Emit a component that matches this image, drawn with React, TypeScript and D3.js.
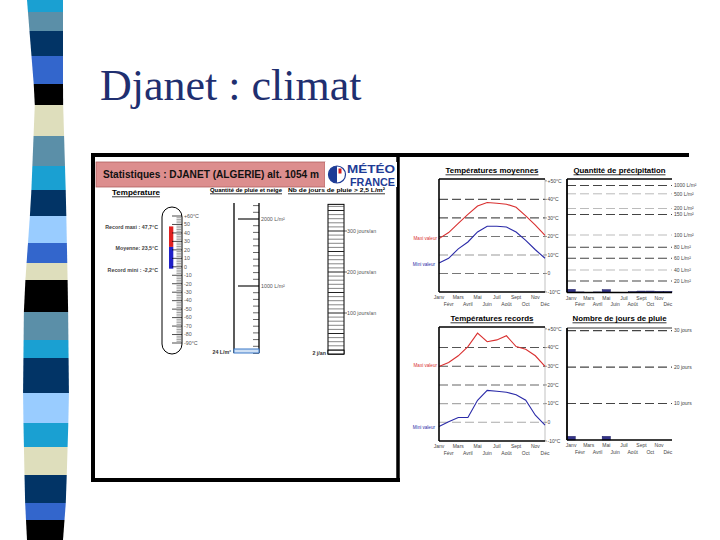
import React from "react";
import * as d3 from "d3";

// ---------- data ----------
const months = ["Janv", "Févr", "Mars", "Avril", "Mai", "Juin", "Juil", "Août", "Sept", "Oct", "Nov", "Déc"];
const meanMax = [18.8, 22.1, 27.0, 31.9, 36.4, 38.3, 37.9, 37.4, 35.7, 31.1, 26.1, 20.6];
const meanMin = [5.7, 8.2, 13.3, 17.0, 22.4, 25.5, 25.5, 25.1, 22.4, 17.9, 12.8, 8.2];
const recMax = [29.9, 32.0, 35.6, 40.5, 47.7, 43.1, 44.1, 46.3, 40.5, 39.1, 35.6, 29.9];
const recMin = [-2.2, 0.3, 2.6, 2.6, 11.8, 17.1, 16.6, 16.1, 14.7, 11.8, 3.8, -1.5];
const precip = [5.5, 1, 0.3, 1, 5, 0.5, 0.2, 1.5, 2.5, 2.5, 2, 2];
const rainDays = [1, 0, 0, 0, 1, 0, 0, 0, 0, 0, 0, 0];
const tempTicks = [50, 40, 30, 20, 10, 0, -10];
const tempTickLabels = ["+50°C", "40°C", "30°C", "20°C", "10°C", "0", "-10°C"];
const precipTicks = [1000, 500, 200, 150, 100, 80, 60, 40, 20];
const rainTicks = [30, 20, 10];
const thermoTicks = [60, 50, 40, 30, 20, 10, 0, -10, -20, -30, -40, -50, -60, -70, -80, -90];
const recordMaxi = 47.7;
const moyenne = 23.5;
const recordMini = -2.2;
const annualPrecip = 24;
const annualRainDays = 2;

const stripeColors = ["#1aa0d2", "#5b8fa8", "#023466", "#3366cc", "#000000", "#dedebc", "#5b8fa8", "#1aa0d2", "#023466", "#99ccff", "#3366cc", "#dedebc", "#000000", "#5b8fa8", "#1aa0d2", "#023466", "#99ccff", "#1aa0d2", "#dedebc", "#023466", "#3366cc", "#000000"];
const stripeBreaks = [0, 12, 31, 56, 84, 105, 136, 166, 190, 216, 243, 263, 280, 312, 340, 358, 393, 423, 447, 475, 503, 520, 540];

const sans = "'Liberation Sans', Arial, sans-serif";
const RED = "#d93030";
const BLUE = "#2a2aa8";

function UText({ x, y, w, size, text, anchor = "start", bold = true, fill = "#000" }: any) {
  const x0 = anchor === "middle" ? x - w / 2 : x;
  return (
    <g>
      <text x={x0} y={y} fontFamily={sans} fontSize={size} fontWeight={bold ? "bold" : "normal"} fill={fill} textLength={w} lengthAdjust="spacingAndGlyphs">{text}</text>
      <line x1={x0} x2={x0 + w} y1={y + 1.8} y2={y + 1.8} stroke={fill} strokeWidth={0.8} />
    </g>
  );
}

function MonthLabels({ xs, y }: any) {
  return (
    <g fontFamily={sans} fontSize={5} fill="#444" textAnchor="middle">
      {months.map((m, i) => (
        <text key={m} x={xs(i)} y={i % 2 === 0 ? y : y + 6.5}>{m}</text>
      ))}
    </g>
  );
}

function TempChart({ left, right, top, bottom, maxD, minD, title, grid }: any) {
  const x = d3.scalePoint<number>().domain(d3.range(12)).range([left, right]);
  const y = d3.scaleLinear().domain([-10, 51]).range([bottom, top]);
  const line = d3.line<number>().x((_, i) => x(i) as number).y((d) => y(d));
  return (
    <g>
      <UText x={(left + right) / 2} y={top - 6} w={title.w} size={7.5} text={title.t} anchor="middle" />
      {tempTicks.slice(1, 6).map((t, i) => (
        <line key={t} x1={left} x2={right} y1={y(t)} y2={y(t)} stroke={grid[i]} strokeWidth={1.1} strokeDasharray="9,4" />
      ))}
      <line x1={right} x2={right} y1={top} y2={bottom} stroke="#999" strokeWidth={0.6} />
      {tempTicks.map((t, i) => (
        <g key={t}>
          <line x1={right} x2={right + 2} y1={y(t)} y2={y(t)} stroke="#555" strokeWidth={0.6} />
          <text x={right + 2.5} y={y(t) + 1.8} fontFamily={sans} fontSize={5} fill="#444">{tempTickLabels[i]}</text>
        </g>
      ))}
      <path d={line(maxD) as string} fill="none" stroke={RED} strokeWidth={1.1} />
      <path d={line(minD) as string} fill="none" stroke={BLUE} strokeWidth={1.1} />
      <text x={left - 2} y={y(maxD[0]) + 1} textAnchor="end" fontFamily={sans} fontSize={4.6} fill={RED}>Maxi valeur</text>
      <text x={left - 4} y={y(minD[0]) + 3} textAnchor="end" fontFamily={sans} fontSize={4.6} fill={BLUE}>Mini valeur</text>
      <line x1={left} x2={right} y1={top} y2={top} stroke="#000" strokeWidth={1.3} />
      <line x1={left} x2={right} y1={bottom} y2={bottom} stroke="#000" strokeWidth={1.3} />
      <line x1={left} x2={left} y1={top} y2={bottom} stroke="#000" strokeWidth={1.6} />
      <MonthLabels xs={(i: number) => x(i)} y={bottom + 7} />
    </g>
  );
}

function BarChart({ left, right, top, bottom, y, data, ticks, labels, darks, title, border }: any) {
  const x = d3.scaleBand<number>().domain(d3.range(12)).range([left, right]).paddingInner(0.06);
  return (
    <g>
      <UText x={(left + right) / 2} y={title.y} w={title.w} size={7.5} text={title.t} anchor="middle" />
      {ticks.map((t: number, i: number) => (
        <g key={t}>
          <line x1={left} x2={right} y1={y(t)} y2={y(t)} stroke={darks[i] ? "#444" : "#aaa"} strokeWidth={darks[i] ? 1.1 : 0.8} strokeDasharray="9,4" />
          <text x={right + 2} y={y(t) + 1.8} fontFamily={sans} fontSize={5} fill="#444">{labels[i]}</text>
        </g>
      ))}
      {data.map((d: number, i: number) => (
        <rect key={i} x={x(i)} width={x.bandwidth()} y={y(d)} height={y(0) - y(d)} fill="#333388" stroke="#1a1a60" strokeWidth={0.5} />
      ))}
      <line x1={left} x2={right} y1={top} y2={top} stroke="#000" strokeWidth={border} />
      <line x1={left} x2={right} y1={bottom} y2={bottom} stroke="#000" strokeWidth={1.4} />
      <line x1={left} x2={left} y1={top} y2={bottom} stroke="#000" strokeWidth={1.8} />
      <MonthLabels xs={(i: number) => (x(i) as number) + x.bandwidth() / 2} y={bottom + 7} />
    </g>
  );
}

export default function App() {
  const leftEdge = d3.scaleLinear().domain([0, 100, 200, 300, 400, 500, 540]).range([27, 35, 31, 24, 23, 25, 27]);
  const rightEdge = d3.scaleLinear().domain([0, 100, 200, 300, 400, 500, 540]).range([63, 63, 66, 68, 69, 66, 63]);

  // thermometer
  const ty = d3.scaleLinear().domain([-90, 60]).range([343, 216]);
  const thermoMinor = d3.range(-90, 61, 2);
  // precipitation gauge
  const gy = d3.scaleLinear().domain([0, 2000]).range([353, 219]);
  const gTicks = d3.range(0, 2201, 100);
  // rain days gauge
  const ry = d3.scaleLinear().domain([0, 300]).range([354, 231]);
  const rLines = d3.range(0, 366, 10);

  const py = d3.scaleLinear().domain([0, 20, 40, 60, 80, 100, 150, 200, 500, 1000]).range([292.5, 281, 270, 258.3, 247.2, 235, 214.5, 208.5, 193.8, 185.5]);
  const rdy = d3.scaleLinear().domain([0, 31]).range([440, 327]);

  return (
    <svg width={720} height={540} style={{ position: "absolute", left: 0, top: 0, background: "#fff" }}>
      {/* decorative stripe */}
      {stripeColors.map((c, i) => {
        const a = stripeBreaks[i], b = stripeBreaks[i + 1];
        const pts = [[leftEdge(a), a], [rightEdge(a), a], [rightEdge(b), b], [leftEdge(b), b]];
        return <polygon key={i} points={pts.map((p) => p.join(",")).join(" ")} fill={c} />;
      })}

      {/* slide title */}
      <text x={100} y={100} fontFamily="'Liberation Serif', 'Times New Roman', serif" fontSize={44} fill="#1f2f70">Djanet : climat</text>

      {/* frame */}
      <rect x={93} y={157} width={305} height={323} fill="#fff" />
      <line x1={91} x2={689} y1={155} y2={155} stroke="#000" strokeWidth={4} />
      <line x1={93} x2={93} y1={153} y2={482} stroke="#000" strokeWidth={4} />
      <line x1={91} x2={400} y1={480} y2={480} stroke="#000" strokeWidth={4} />
      <line x1={398} x2={398} y1={153} y2={482} stroke="#000" strokeWidth={3.5} />

      {/* header */}
      <rect x={96} y={162} width={229} height={25} fill="#dc8e8e" stroke="#b06060" strokeWidth={0.8} />
      <text x={103} y={178} fontFamily={sans} fontSize={11.5} fontWeight="bold" fill="#111" textLength={216} lengthAdjust="spacingAndGlyphs">Statistiques : DJANET (ALGERIE)  alt. 1054 m</text>
      <rect x={325} y={162} width={72} height={25} fill="#fff" />
      <circle cx={337} cy={174.5} r={8.5} fill="#fff" stroke="#1e3c96" strokeWidth={1.2} />
      <path d="M337,166 A8.5,8.5 0 0 0 337,183 Z" fill="#1e3c96" />
      <rect x={338.5} y={168.5} width={3} height={5} fill="#d42020" />
      <text x={347} y={173} fontFamily={sans} fontSize={11} fontWeight="bold" fill="#1e3c96" textLength={48} lengthAdjust="spacingAndGlyphs">MÉTÉO</text>
      <text x={350} y={185.8} fontFamily={sans} fontSize={11} fontWeight="bold" fill="#1e3c96" textLength={45} lengthAdjust="spacingAndGlyphs">FRANCE</text>

      <UText x={112} y={195} w={48} size={7.5} text="Température" />
      <UText x={210} y={192} w={72} size={5.5} text="Quantité de pluie et neige" />
      <UText x={288} y={192} w={97} size={5.5} text="Nb de jours de pluie > 2,5 L/m²" />

      {/* thermometer */}
      <rect x={162} y={207} width={20} height={147} rx={10} fill="#fff" stroke="#000" strokeWidth={1} />
      <rect x={169} y={ty(recordMaxi)} width={4.3} height={ty(moyenne) - ty(recordMaxi)} fill="#e02020" />
      <rect x={169} y={ty(moyenne)} width={4.3} height={ty(recordMini) - ty(moyenne)} fill="#2020c8" />
      {thermoMinor.map((t) => (
        <line key={t} x1={t % 10 === 0 ? 172 : 176.5} x2={182} y1={ty(t)} y2={ty(t)} stroke={t % 10 === 0 ? "#000" : "#777"} strokeWidth={0.7} />
      ))}
      {thermoTicks.map((t, i) => (
        <text key={t} x={184} y={ty(t) + 1.8} fontFamily={sans} fontSize={5.3} fill="#555">
          {i === 0 ? "+60°C" : i === thermoTicks.length - 1 ? "-90°C" : String(t)}
        </text>
      ))}
      <g fontFamily={sans} fontSize={5.3} fontWeight="bold" fill="#444" textAnchor="end">
        <text x={158} y={ty(recordMaxi) + 2.5}>Record maxi : 47,7°C</text>
        <text x={158} y={ty(moyenne) + 3}>Moyenne: 23,5°C</text>
        <text x={158} y={ty(recordMini) + 3.5}>Record mini : -2,2°C</text>
      </g>

      {/* precipitation gauge */}
      <line x1={234} x2={234} y1={gy(2240)} y2={gy(0)} stroke="#000" strokeWidth={1.3} />
      <line x1={259} x2={259} y1={gy(2240)} y2={gy(0)} stroke="#000" strokeWidth={1.3} />
      {gTicks.map((t) => (
        <line key={t} x1={t % 1000 === 0 && t > 0 ? 238 : 253} x2={259} y1={gy(t)} y2={gy(t)} stroke="#000" strokeWidth={t % 1000 === 0 ? 1.1 : 0.6} />
      ))}
      <text x={261} y={gy(2000) + 1.8} fontFamily={sans} fontSize={5.3} fill="#555">2000 L/m²</text>
      <text x={261} y={gy(1000) + 1.8} fontFamily={sans} fontSize={5.3} fill="#555">1000 L/m²</text>
      <rect x={234} y={Math.min(gy(annualPrecip), gy(0) - 4)} width={25} height={Math.max(gy(0) - gy(annualPrecip), 4)} fill="#cfe0f4" stroke="#3a78c8" strokeWidth={1} />
      <text x={231} y={gy(0) + 1} textAnchor="end" fontFamily={sans} fontSize={5.3} fontWeight="bold" fill="#333">24 L/m²</text>

      {/* rain days gauge */}
      <rect x={328} y={ry(365)} width={16} height={ry(0) - ry(365)} fill="#fff" stroke="#000" strokeWidth={1} />
      {rLines.map((t) => (
        <line key={t} x1={328} x2={344} y1={ry(t)} y2={ry(t)} stroke="#222" strokeWidth={t % 50 === 0 ? 1 : 0.55} />
      ))}
      <rect x={328} y={ry(annualRainDays) - 3} width={16} height={3 + ry(0) - ry(annualRainDays)} fill="#fff" stroke="#000" strokeWidth={1} />
      {[300, 200, 100].map((t) => (
        <g key={t}>
          <line x1={344} x2={347} y1={ry(t)} y2={ry(t)} stroke="#000" strokeWidth={0.6} />
          <text x={347} y={ry(t) + 1.8} fontFamily={sans} fontSize={5.3} fill="#555">{t} jours/an</text>
        </g>
      ))}
      <text x={326} y={ry(0) + 1} textAnchor="end" fontFamily={sans} fontSize={5.3} fontWeight="bold" fill="#333">2 j/an</text>

      {/* right panel charts */}
      <TempChart left={439} right={545} top={179} bottom={292} maxD={meanMax} minD={meanMin}
        title={{ t: "Températures moyennes", w: 93 }} grid={["#555", "#555", "#777", "#999", "#777"]} />
      <TempChart left={439} right={545} top={327} bottom={441} maxD={recMax} minD={recMin}
        title={{ t: "Températures records", w: 83 }} grid={["#555", "#555", "#666", "#aaa", "#aaa"]} />

      <BarChart left={567} right={672} top={179} bottom={292.5} y={py} data={precip}
        ticks={precipTicks} labels={precipTicks.map((t) => `${t} L/m²`)}
        darks={[true, false, false, true, false, true, true, false, true]}
        title={{ t: "Quantité de précipitation", w: 92, y: 173 }} border={1.3} />
      <BarChart left={567} right={672} top={328} bottom={440} y={rdy} data={rainDays}
        ticks={rainTicks} labels={rainTicks.map((t) => `${t} jours`)}
        darks={[true, true, true]}
        title={{ t: "Nombre de jours de pluie", w: 94, y: 321 }} border={0.8} />
    </svg>
  );
}
